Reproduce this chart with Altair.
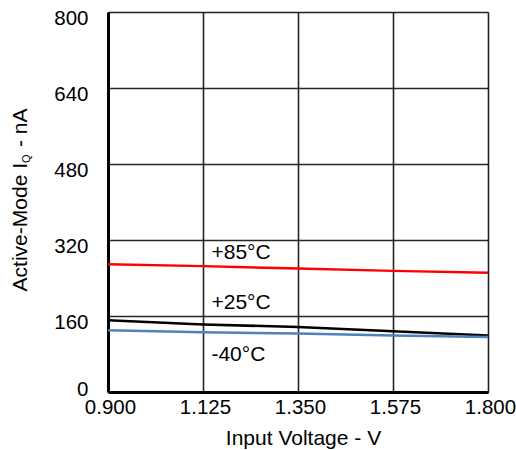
import altair as alt
import pandas as pd

voltage = [0.900, 1.125, 1.350, 1.575, 1.800]
iq_85 = [269, 265, 260, 255, 251]
iq_25 = [151, 142, 137, 128, 119]
iq_m40 = [130, 126, 123, 119, 116]

series_names = ["+85°C", "+25°C", "-40°C"]
series_colors = ["#ff0000", "#000000", "#4f81bd"]

label_x = [1.145, 1.145, 1.145]
label_y = [293, 188, 78]

x_ticks = [0.900, 1.125, 1.350, 1.575, 1.800]
y_ticks = [0, 160, 320, 480, 640, 800]

rows = []
for name, vals in zip(series_names, [iq_85, iq_25, iq_m40]):
    for v, q in zip(voltage, vals):
        rows.append({"V": v, "IQ": q, "series": name})
df = pd.DataFrame(rows)
lab = pd.DataFrame({"V": label_x, "IQ": label_y, "text": series_names})

FONT = "Liberation Sans"
FS = 21
TFS = 20.5

xs = alt.Scale(domain=[0.9, 1.8], nice=False, zero=False)
ys = alt.Scale(domain=[0, 800], nice=False)

xaxis = alt.Axis(values=x_ticks, format=".3f", title="Input Voltage - V",
                 grid=True, gridColor="#000000", gridWidth=1.6, gridOpacity=0.85,
                 ticks=False, labelPadding=5, labelOffset=2, labelFontSize=TFS, labelColor="#000",
                 labelFont=FONT, titleFont=FONT, titleFontSize=FS, titleFontWeight="normal",
                 titleColor="#000", titlePadding=10, domain=True, domainColor="#000",
                 domainWidth=3, titleX=195, labelFlush=False)
yaxis = alt.Axis(values=y_ticks, title=None, grid=True, gridColor="#000000",
                 gridWidth=1.6, gridOpacity=0.85, ticks=False, labelPadding=20,
                 labelOffset={"condition": {"test": "datum.value == 0", "value": -2.5}, "value": 6},
                 labelFontSize=TFS, labelColor="#000", labelFont=FONT, domain=True,
                 domainColor="#000", domainWidth=3, labelFlush=False)

lines = alt.Chart(df).mark_line(strokeWidth=2.5).encode(
    x=alt.X("V:Q", scale=xs, axis=xaxis),
    y=alt.Y("IQ:Q", scale=ys, axis=yaxis),
    color=alt.Color("series:N", scale=alt.Scale(domain=series_names, range=series_colors), legend=None),
)

labels = alt.Chart(lab).mark_text(align="left", baseline="middle", fontSize=FS, font=FONT, color="#000").encode(
    x=alt.X("V:Q", scale=xs), y=alt.Y("IQ:Q", scale=ys), text="text:N"
)

t1 = alt.Chart(pd.DataFrame({"t": ["Active-Mode I"]})).mark_text(
    angle=270, align="right", baseline="middle", fontSize=FS, font=FONT, color="#000").encode(
    x=alt.value(-87), y=alt.value(151), text="t:N")
t2 = alt.Chart(pd.DataFrame({"t": ["Q"]})).mark_text(
    angle=270, align="left", baseline="middle", fontSize=11, font=FONT, color="#000").encode(
    x=alt.value(-81), y=alt.value(151), text="t:N")
t3 = alt.Chart(pd.DataFrame({"t": ["- nA"]})).mark_text(
    angle=270, align="left", baseline="middle", fontSize=FS, font=FONT, color="#000").encode(
    x=alt.value(-87), y=alt.value(135), text="t:N")

chart = alt.layer(lines, labels, t1, t2, t3).properties(
    width=380, height=380,
    autosize=alt.AutoSizeParams(type="none"),
    padding={"left": 108, "top": 12, "right": 28, "bottom": 58},
).configure_view(stroke="#000000", strokeWidth=2.5).configure(background="white")

chart.save("out.html", embed_options={"renderer": "svg", "actions": False})
